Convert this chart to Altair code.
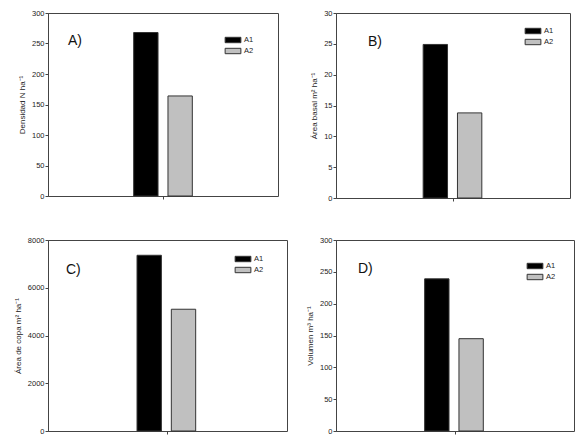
import altair as alt
import pandas as pd

series = ["A1", "A2"]
panel_labels = ["A)", "B)", "C)", "D)"]
y_titles = ["Densidad N ha⁻¹", "Área basal m² ha⁻¹", "Área de copa m² ha⁻¹", "Volumen m³ ha⁻¹"]
values_A = [268, 164]
values_B = [24.9, 13.8]
values_C = [7360, 5100]
values_D = [239, 145]
y_max = [300, 30, 8000, 300]
y_ticks = [[0, 50, 100, 150, 200, 250, 300],
           [0, 5, 10, 15, 20, 25, 30],
           [0, 2000, 4000, 6000, 8000],
           [0, 50, 100, 150, 200, 250, 300]]

FONT = "Liberation Sans"

def panel(i, vals, w, h, lab_xy, leg_xy):
    df = pd.DataFrame({"grupo": ["g", "g"], "serie": series, "valor": vals})
    bars = alt.Chart(df).mark_bar(stroke="#333333", strokeWidth=1).encode(
        x=alt.X("grupo:N", title=None,
                axis=alt.Axis(labels=False, ticks=True, tickSize=3, domain=False),
                scale=alt.Scale(paddingOuter=1, paddingInner=0.3154)),
        xOffset=alt.XOffset("serie:N", scale=alt.Scale(paddingInner=0.29, paddingOuter=0)),
        y=alt.Y("valor:Q", title=y_titles[i],
                scale=alt.Scale(domain=[0, y_max[i]], nice=False),
                axis=alt.Axis(values=y_ticks[i], format="d", tickSize=3, labelPadding=1,
                              grid=False, titlePadding=5)),
        color=alt.Color("serie:N", title=None,
                        scale=alt.Scale(domain=series, range=["#000000", "#c0c0c0"]),
                        legend=alt.Legend(orient="none", legendX=leg_xy[0], legendY=leg_xy[1],
                                          symbolType="M-1.75,-0.6H1.75V0.6H-1.75Z", symbolSize=81,
                                          symbolStrokeColor="#333333", symbolStrokeWidth=1,
                                          symbolOpacity=1, labelFontSize=7.5, labelFont=FONT,
                                          labelColor="#222222", rowPadding=1, labelOffset=6,
                                          padding=0)),
    )
    txt = alt.Chart(pd.DataFrame({"t": [panel_labels[i]]})).mark_text(
        font=FONT, fontSize=14, align="left", baseline="middle", color="#111111"
    ).encode(text="t:N", x=alt.value(lab_xy[0]), y=alt.value(lab_xy[1]))
    return alt.layer(bars, txt).properties(width=w, height=h)

pA = panel(0, values_A, 230, 183, (20, 28), (180, 22))
pB = panel(1, values_B, 234, 185, (32, 29), (192, 13))
pC = panel(2, values_C, 239, 191, (18, 30), (190, 14))
pD = panel(3, values_D, 238, 191, (22, 29), (194, 21))

chart = alt.concat(
    pA, pB, pC, pD, columns=2, align="each",
    spacing={"row": 33, "column": 17},
).resolve_scale(color="independent").resolve_legend(color="independent").configure(
    padding={"left": 5, "top": 0, "right": 0, "bottom": 0}
).configure_view(
    stroke="#444444", strokeWidth=1
).configure_axis(
    domainColor="#444444", tickColor="#444444", labelColor="#222222",
    labelFont=FONT, labelFontSize=7.5, titleFont=FONT, titleFontSize=8,
    titleFontWeight="normal", titleColor="#222222"
)

chart.save("out.html", embed_options={"renderer": "svg", "actions": False})
